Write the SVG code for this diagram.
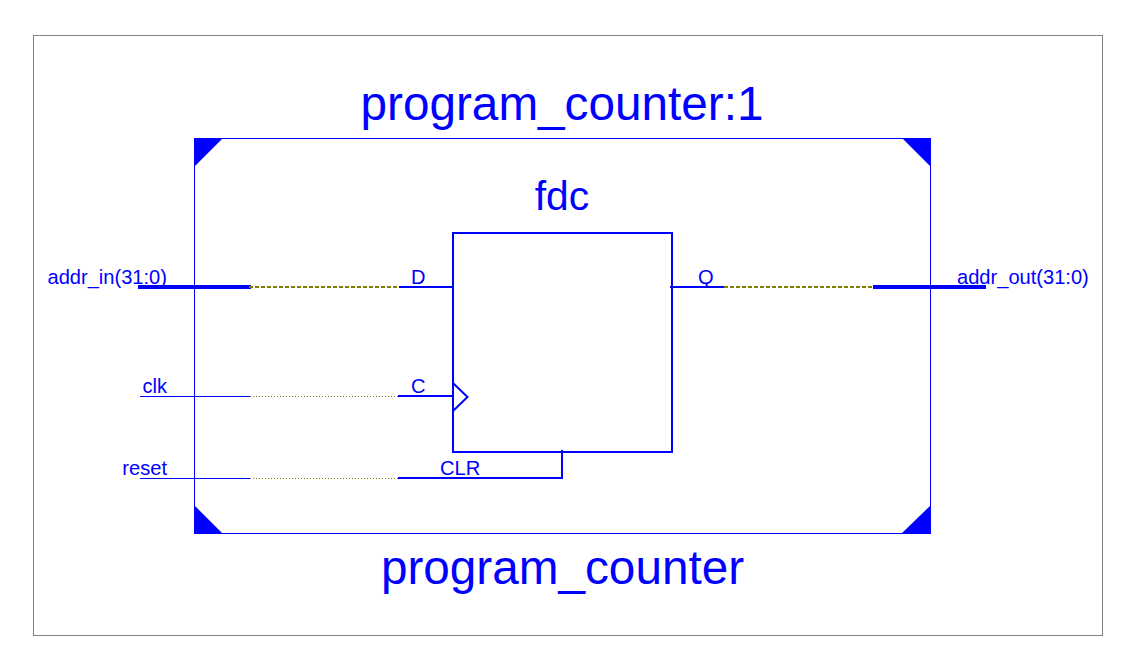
<svg xmlns="http://www.w3.org/2000/svg" width="1136" height="668" viewBox="0 0 1136 668">
<style>
text{font-family:"Liberation Sans",Arial,sans-serif;fill:#0000ff}
.big{font-size:47.7px;text-anchor:middle}
.fdc{font-size:40.8px;text-anchor:middle}
.lab{font-size:20.1px}
.end{text-anchor:end}
.w1{stroke:#0000ff;stroke-width:1;fill:none}
.w2{stroke:#0000ff;stroke-width:2;fill:none}
.bus{stroke:#0000ff;stroke-width:4;fill:none}
.dash{stroke:#808000;stroke-width:2;stroke-dasharray:4 2;fill:none}
.dot{stroke:#808000;stroke-width:1;stroke-dasharray:1 2;fill:none}
.corner{fill:#0000ff}
</style>
<rect width="1136" height="668" fill="#ffffff"/>
<rect id="frame" x="33.5" y="35.5" width="1069" height="600" fill="none" stroke="#808080" stroke-width="1"/>
<g id="program_counter">
<rect x="194.5" y="138.5" width="736" height="395" class="w1"/>
<polygon class="corner" points="194,138 223,138 194,167"/>
<polygon class="corner" points="902,138 931,138 931,167"/>
<polygon class="corner" points="194,505 223,534 194,534"/>
<polygon class="corner" points="931,505 931,534 901,534"/>
<text class="big" x="562" y="120">program_counter:1</text>
<text class="big" x="562.5" y="584">program_counter</text>
</g>
<g id="fdc">
<rect x="453" y="233" width="219" height="219" class="w2"/>
<polyline class="w2" points="453,383 467.5,397 453,411"/>
<text class="fdc" x="562" y="210">fdc</text>
<text class="lab" x="411" y="284">D</text>
<text class="lab" x="411" y="393">C</text>
<text class="lab" x="440" y="475">CLR</text>
<text class="lab" x="698" y="284">Q</text>
</g>
<g id="connectors">
<line class="bus" x1="138" y1="287" x2="251" y2="287"/>
<line class="dash" x1="249" y1="287" x2="399" y2="287"/>
<line class="w2" x1="399" y1="287" x2="453" y2="287"/>
<line class="w1" x1="140" y1="396.5" x2="250" y2="396.5"/>
<line class="dot" x1="250" y1="396.5" x2="398" y2="396.5"/>
<line class="w2" x1="398" y1="396" x2="453" y2="396"/>
<line class="w1" x1="140" y1="478.5" x2="250" y2="478.5"/>
<line class="dot" x1="250" y1="478.5" x2="398" y2="478.5"/>
<polyline class="w2" points="398,478 562,478 562,450"/>
<line class="w2" x1="670" y1="287" x2="724" y2="287"/>
<line class="dash" x1="724" y1="287" x2="875" y2="287"/>
<line class="bus" x1="873" y1="287" x2="986" y2="287"/>
</g>
<g id="port_addr_in"><text class="lab end" x="167" y="284">addr_in(31:0)</text></g>
<g id="port_clk"><text class="lab end" x="167" y="393">clk</text></g>
<g id="port_reset"><text class="lab end" x="167" y="475">reset</text></g>
<g id="port_addr_out"><text class="lab" x="957" y="284">addr_out(31:0)</text></g>
</svg>
